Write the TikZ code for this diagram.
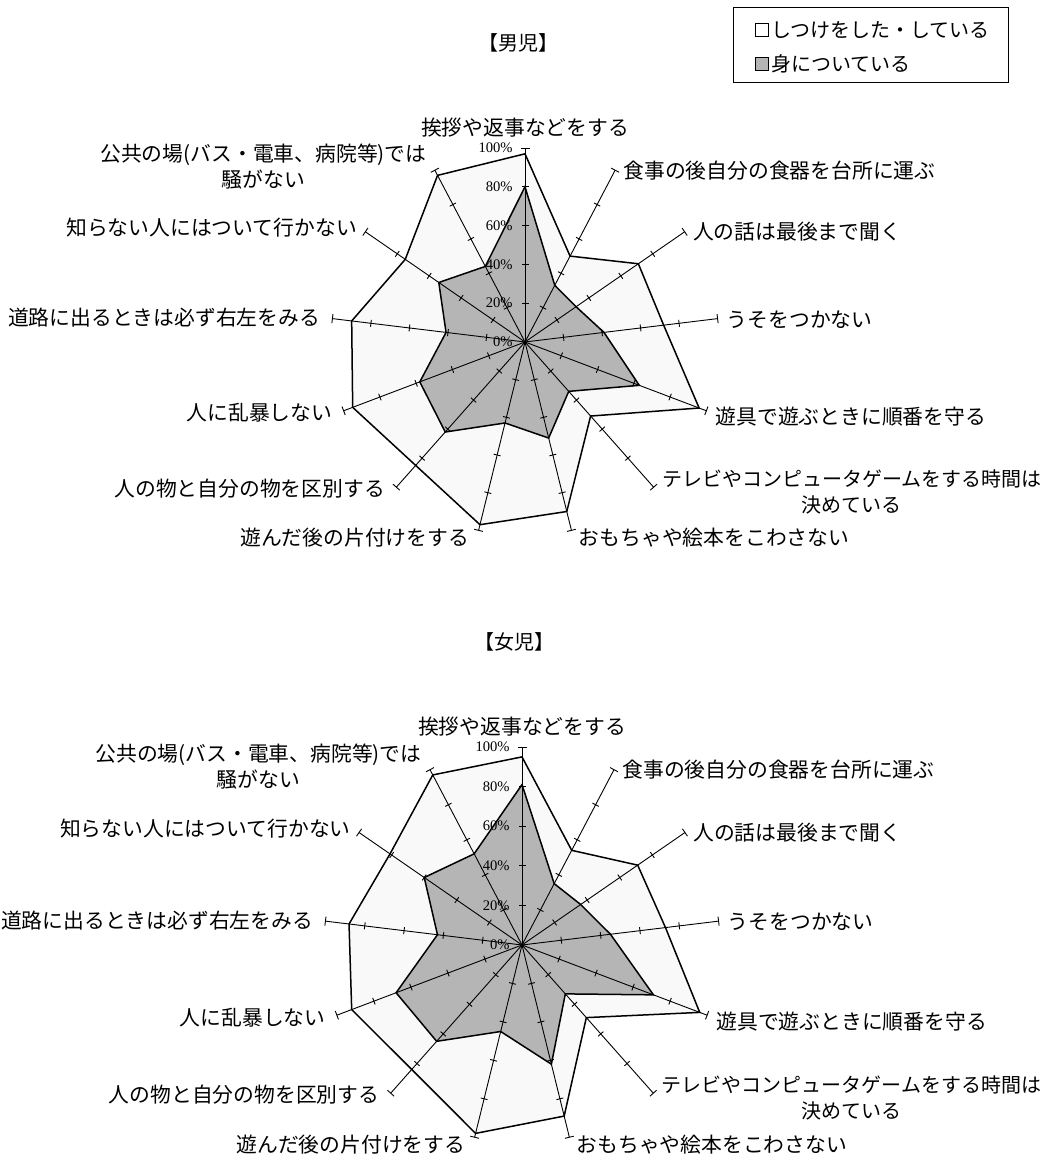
\documentclass[tikz,border=0pt]{standalone}
\usepackage{fontspec}
\setmainfont{Noto Sans CJK JP}
\newfontfamily\pctfont{Liberation Serif}
\usepackage{tikz}
\usetikzlibrary{calc}

\tikzset{
	axisline/.style={line width=0.45pt},
	shitsuke/.style={draw, line width=0.75pt, fill=gray!5},
	minitsuku/.style={draw, line width=0.75pt, fill=gray!58},
	itemlabel/.style={font=\fontsize{10.4pt}{13pt}\selectfont, inner sep=0pt, align=center},
	widelabel/.style={font=\fontsize{10pt}{13pt}\selectfont},
	plainlabel/.style={},
	pctlabel/.style={font=\pctfont\fontsize{7.3pt}{8pt}\selectfont, inner sep=0pt, anchor=east},
	keytext/.style={font=\fontsize{10pt}{12pt}\selectfont, inner sep=0pt, anchor=west},
	keybox/.style={draw, line width=0.5pt, minimum size=6.5pt, inner sep=0pt},
	charttitle/.style={font=\fontsize{10pt}{12pt}\selectfont, inner sep=0pt},
}

% #1 prefix, #2 radius, #3 shitsuke values, #4 minitsuku values
\newcommand{\radarchart}[4]{%
	\coordinate (#1c) at (0,0);
	\foreach \v [count=\k from 0] in {#3}
		\coordinate (#1o\k) at ({90-\k*360/13}:{\v/100*#2});
	\foreach \v [count=\k from 0] in {#4}
		\coordinate (#1i\k) at ({90-\k*360/13}:{\v/100*#2});
	\draw[shitsuke] (#1o0) \foreach \k in {1,...,12}{ -- (#1o\k)} -- cycle;
	\draw[minitsuku] (#1i0) \foreach \k in {1,...,12}{ -- (#1i\k)} -- cycle;
	\foreach \k in {0,...,12}{
		\coordinate (#1e\k) at ({90-\k*360/13}:#2);
		\draw[axisline] (#1c) -- (#1e\k);
		\begin{scope}[rotate=90-\k*360/13]
			\foreach \t in {0.2,0.4,0.6,0.8}
				\draw[axisline] ({\t*#2},-3.5) -- ({\t*#2},3.5);
			\draw[axisline] (#2,-4.5) -- (#2,4.5);
		\end{scope}
	}
	\foreach \p [count=\i from 0] in {0,20,...,100}
		\node[pctlabel] (#1p\i) at ($(#1c)+(-12,{\p/100*#2})$) {\p\%};
	\foreach \k/\an/\dx/\dy/\st/\tx in {
		0/south/0/10/plainlabel/{挨拶や返事などをする},
		1/west/8/0/plainlabel/{食事の後自分の食器を台所に運ぶ},
		2/west/8/0/plainlabel/{人の話は最後まで聞く},
		3/west/9/-1/plainlabel/{うそをつかない},
		4/west/9/-6/plainlabel/{遊具で遊ぶときに順番を守る},
		5/west/8/-4.5/widelabel/{テレビやコンピュータゲームをする時間は\\決めている},
		6/west/7/-7/plainlabel/{おもちゃや絵本をこわさない},
		7/east/-9/-7/plainlabel/{遊んだ後の片付けをする},
		8/east/-11/-1/plainlabel/{人の物と自分の物を区別する},
		9/east/-11/-2/plainlabel/{人に乱暴しない},
		10/east/-12/1/plainlabel/{道路に出るときは必ず右左をみる},
		11/east/-8/4/plainlabel/{知らない人にはついて行かない},
		12/east/-8/3.5/plainlabel/{公共の場(バス・電車、病院等)では\\騒がない}}
		\node[itemlabel, \st, anchor=\an] (#1l\k) at ([shift={(\dx,\dy)}]#1e\k) {\tx};
}

\begin{document}
\begin{tikzpicture}[x=0.5pt, y=0.5pt]
	\useasboundingbox (0,0) rectangle (1049,1157);
	% legend
	\draw[line width=0.5pt] (733,1149) rectangle (1008,1074);
	\node[keybox, fill=white] (keyA) at (761.5,1127) {};
	\node[keybox, fill=gray!58] (keyB) at (761.5,1093) {};
	\node[keytext] (keyAtext) at (771,1127) {しつけをした・している};
	\node[keytext] (keyBtext) at (771,1093) {身についている};
	% titles
	\node[charttitle] (boys) at (518,1114) {【男児】};
	\node[charttitle] (girls) at (514,515) {【女児】};
	%
	\begin{scope}[shift={(525,815)}]
		\radarchart{m}{194}{97,50,71,72,96,51,90,97,85,95,90,75,97}{80,33,32,41,63,34,51,43,62,58,41,54,44}
	\end{scope}
	\begin{scope}[shift={(522,212)}]
		\radarchart{f}{198}{95,54,71,73,96,49,89,98,84,92,88,81,97}{81,35,36,45,71,33,62,45,65,68,43,60,52}
	\end{scope}
\end{tikzpicture}
\end{document}
